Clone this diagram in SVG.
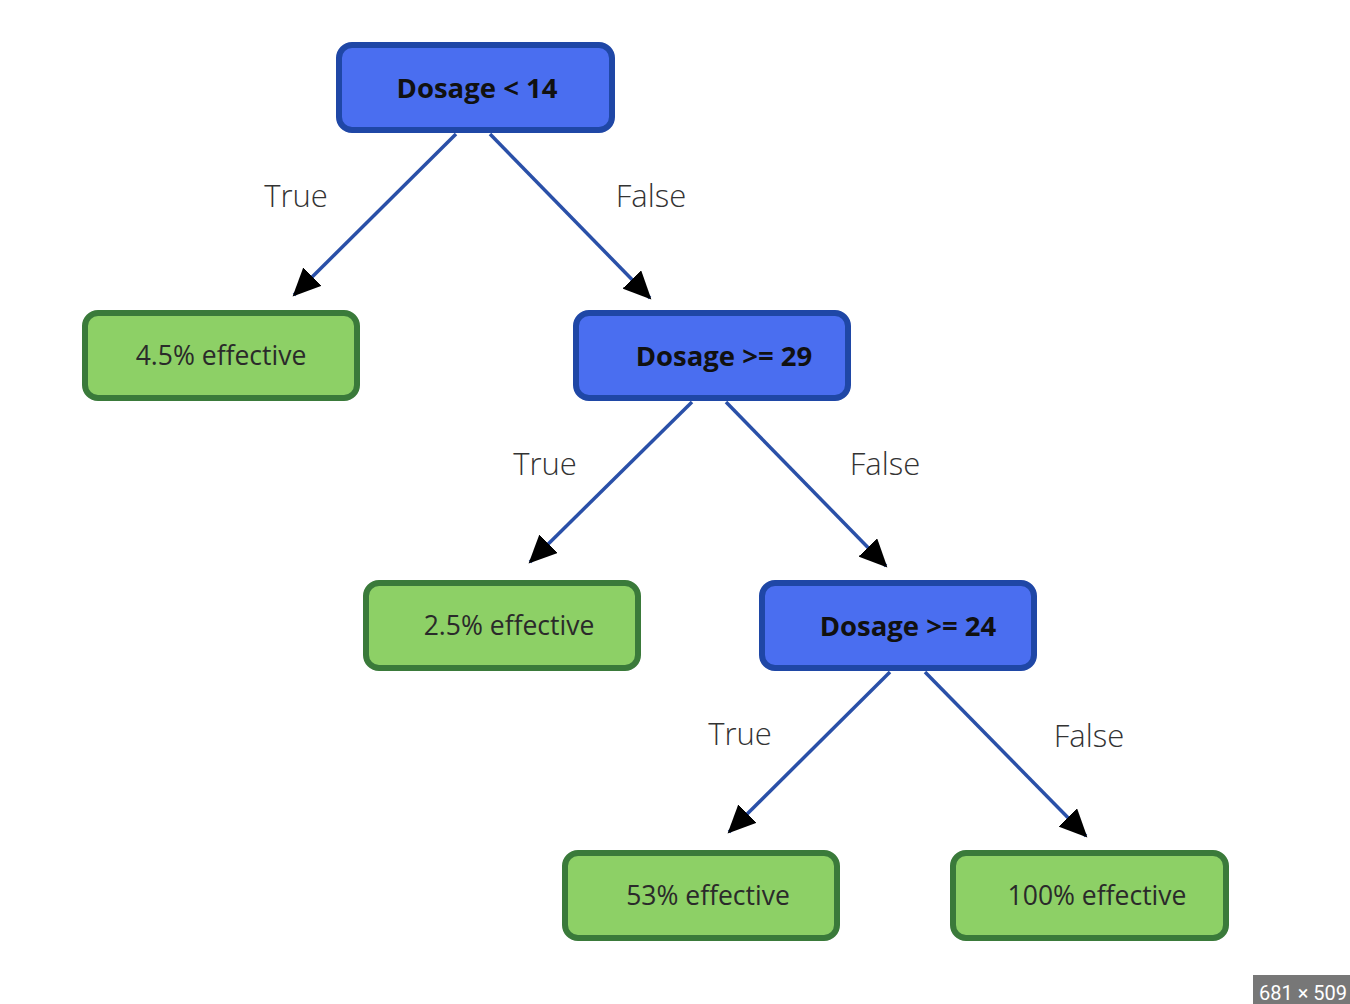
<svg xmlns="http://www.w3.org/2000/svg" width="1350" height="1004" viewBox="0 0 1350 1004">
<defs>
<style>
.dec rect{fill:#4a6ef0;stroke:#1f47a6;stroke-width:6}
.leaf rect{fill:#8dd066;stroke:#3a7a3a;stroke-width:6}
.dec text{font-family:"Open Sans","Noto Sans",sans-serif;font-weight:bold;font-size:27.5px;fill:#111;text-anchor:middle}
.leaf text{font-family:"Open Sans","Noto Sans",sans-serif;font-size:26.5px;fill:#2a2a2a;text-anchor:middle}
.lbl{font-family:"Open Sans","Noto Sans",sans-serif;font-weight:300;font-size:31px;fill:#333;text-anchor:middle}
.edge{stroke:#2a50a8;stroke-width:3.5;fill:none;marker-end:url(#ah)}
</style>
<marker id="ah" markerUnits="userSpaceOnUse" markerWidth="30" markerHeight="26" refX="26" refY="13" orient="auto" viewBox="0 0 30 26">
<path d="M0,0 L28,13 L0,26 Z" fill="#000"/>
</marker>
</defs>
<g id="connectors">
<line class="edge" x1="456" y1="134" x2="294" y2="295"/>
<line class="edge" x1="490" y1="134" x2="650" y2="298"/>
<line class="edge" x1="692" y1="402" x2="530" y2="562"/>
<line class="edge" x1="726" y1="402" x2="886" y2="566"/>
<line class="edge" x1="890" y1="672" x2="729" y2="832"/>
<line class="edge" x1="925" y1="672" x2="1086" y2="836"/>
<text class="lbl" x="296" y="207">True</text>
<text class="lbl" x="651" y="207">False</text>
<text class="lbl" x="545" y="475">True</text>
<text class="lbl" x="885" y="475">False</text>
<text class="lbl" x="740" y="745">True</text>
<text class="lbl" x="1089" y="747">False</text>
</g>
<g id="n1" class="dec"><rect x="339" y="45" width="273" height="85" rx="13"/><text x="477" y="98">Dosage &lt; 14</text></g>
<g id="n2" class="leaf"><rect x="85" y="313" width="272" height="85" rx="13"/><text x="221" y="365">4.5% effective</text></g>
<g id="n3" class="dec"><rect x="576" y="313" width="272" height="85" rx="13"/><text x="724" y="366">Dosage &gt;= 29</text></g>
<g id="n4" class="leaf"><rect x="366" y="583" width="272" height="85" rx="13"/><text x="509" y="635">2.5% effective</text></g>
<g id="n5" class="dec"><rect x="762" y="583" width="272" height="85" rx="13"/><text x="908" y="636">Dosage &gt;= 24</text></g>
<g id="n6" class="leaf"><rect x="565" y="853" width="272" height="85" rx="13"/><text x="708" y="905">53% effective</text></g>
<g id="n7" class="leaf"><rect x="953" y="853" width="273" height="85" rx="13"/><text x="1097" y="905">100% effective</text></g>
<g id="badge"><rect x="1253" y="975" width="97" height="29" fill="#777"/><text x="1303" y="1000" font-family="Roboto,'Noto Sans',sans-serif" font-size="20" fill="#fff" text-anchor="middle">681 × 509</text></g>
</svg>
